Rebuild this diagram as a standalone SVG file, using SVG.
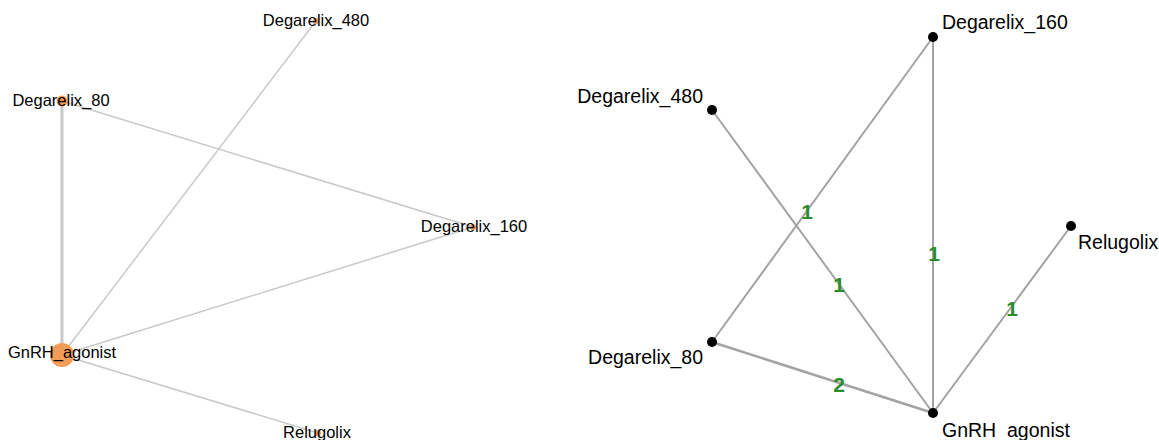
<svg xmlns="http://www.w3.org/2000/svg" width="1159" height="440" viewBox="0 0 1159 440">
<style>
.le{stroke:#c9c9c9;stroke-width:1.5;fill:none}
.re{stroke:#a3a3a3;stroke-width:2;fill:none}
.ln{fill:#f39c57}
.rn{fill:#000}
.lt{font-family:"Liberation Sans",Arial,sans-serif;font-size:16.5px;fill:#000;text-anchor:middle}
.rt{font-family:"Liberation Sans",Arial,sans-serif;font-size:19.5px;fill:#000}
.el{font-family:"Liberation Sans",Arial,sans-serif;font-size:21px;font-weight:bold;fill:#2a8c2a;text-anchor:middle}
</style>
<rect width="1159" height="440" fill="#fff"/>
<g id="left-connectors">
<line class="le" x1="62" y1="355" x2="62" y2="101" style="stroke-width:3"/>
<line class="le" x1="62" y1="355" x2="316" y2="21"/>
<line class="le" x1="62" y1="355" x2="473" y2="227"/>
<line class="le" x1="62" y1="355" x2="318" y2="433"/>
<line class="le" x1="62" y1="101" x2="473" y2="227"/>
</g>
<g id="left-Degarelix_480"><circle class="ln" cx="316" cy="21" r="3"/><text class="lt" x="316" y="26">Degarelix_480</text></g>
<g id="left-Degarelix_80"><circle class="ln" cx="62" cy="101" r="5.5"/><text class="lt" x="61" y="106">Degarelix_80</text></g>
<g id="left-Degarelix_160"><circle class="ln" cx="473" cy="227" r="3"/><text class="lt" x="474" y="232">Degarelix_160</text></g>
<g id="left-GnRH_agonist"><circle class="ln" cx="62" cy="355" r="12"/><text class="lt" x="62" y="358">GnRH_agonist</text></g>
<g id="left-Relugolix"><circle class="ln" cx="318" cy="433" r="3"/><text class="lt" x="317" y="438">Relugolix</text></g>
<g id="right-connectors">
<line class="re" x1="712" y1="342" x2="933" y2="37"/>
<line class="re" x1="712" y1="110" x2="933" y2="413"/>
<line class="re" x1="933" y1="37" x2="933" y2="413"/>
<line class="re" x1="1071" y1="226" x2="933" y2="413"/>
<line class="re" x1="712" y1="342" x2="933" y2="413" style="stroke-width:2.5"/>
<text class="el" x="807" y="219">1</text>
<text class="el" x="839" y="292">1</text>
<text class="el" x="934" y="261">1</text>
<text class="el" x="1012" y="316">1</text>
<text class="el" x="839" y="392">2</text>
</g>
<g id="right-Degarelix_160"><circle class="rn" cx="933" cy="37" r="5"/><text class="rt" x="942" y="29">Degarelix_160</text></g>
<g id="right-Degarelix_480"><circle class="rn" cx="712" cy="110" r="5"/><text class="rt" x="703" y="103" text-anchor="end">Degarelix_480</text></g>
<g id="right-Relugolix"><circle class="rn" cx="1071" cy="226" r="5"/><text class="rt" x="1078" y="249">Relugolix</text></g>
<g id="right-Degarelix_80"><circle class="rn" cx="712" cy="342" r="5"/><text class="rt" x="703" y="364" text-anchor="end">Degarelix_80</text></g>
<g id="right-GnRH_agonist"><circle class="rn" cx="933" cy="413" r="5"/><text class="rt" x="942" y="437">GnRH_agonist</text></g>
</svg>
